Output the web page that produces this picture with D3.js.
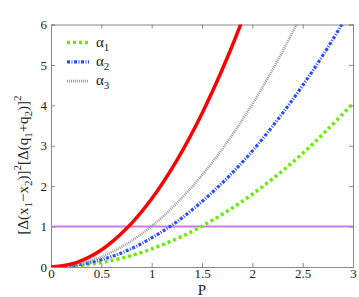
<!DOCTYPE html>
<html>
<head>
<meta charset="utf-8">
<script src="https://cdn.jsdelivr.net/npm/d3@7"></script>
<style>
  body { margin: 0; background: #fff; }
  svg text { font-family: "Liberation Serif", "Times New Roman", "DejaVu Serif", serif !important; }
</style>
</head>
<body>
<div id="container"></div>
<script>
// values
const pRed = [0, 0.25, 0.5, 0.75, 1, 1.25, 1.5, 1.75, 2];
const yRed = [0, 0.11, 0.42, 0.95, 1.69, 2.64, 3.8, 5.17, 6.75];
const pAll = [0, 0.25, 0.5, 0.75, 1, 1.25, 1.5, 1.75, 2, 2.25, 2.5, 2.75, 3];
const yGray = [0, 0.063, 0.25, 0.57, 1.01, 1.58, 2.27, 3.09, 4.03, 5.1, 6.3];
const yBlue = [0, 0.045, 0.18, 0.40, 0.72, 1.12, 1.62, 2.20, 2.87, 3.64, 4.49, 5.43, 6.47];
const yGreen = [0, 0.028, 0.11, 0.25, 0.45, 0.70, 1.01, 1.38, 1.80, 2.28, 2.81, 3.41, 4.05];
const xTicks = [0, 0.5, 1, 1.5, 2, 2.5, 3];
const yTicks = [0, 1, 2, 3, 4, 5, 6];
const refLevel = 1;
const legendNames = ["1", "2", "3"];

const w = 359, h = 297;
const margin = {top: 24.5, left: 51, bottom: 30, right: 6};
const graphWidth = w - margin.left - margin.right;
const graphHeight = h - margin.top - margin.bottom;

const svg = d3.select("#container").append("svg").attr("width", w).attr("height", h);
const graph = svg.append("g").attr("transform", `translate(${margin.left}, ${margin.top})`);

const xScale = d3.scaleLinear().domain([0, 3]).range([0, graphWidth]);
const yScale = d3.scaleLinear().domain([0, 6]).range([graphHeight, 0]);

svg.append("defs").append("clipPath").attr("id", "clip")
  .append("rect").attr("width", graphWidth).attr("height", graphHeight);

const axisColor = "#888";
const labelColor = "#222";

// axes, ticks pointing inward
const xAxisGroup = graph.append("g").attr("transform", `translate(0, ${graphHeight})`)
  .call(d3.axisBottom(xScale).tickValues(xTicks).tickSize(-4).tickPadding(2).tickFormat(d3.format("")));
const xTopGroup = graph.append("g")
  .call(d3.axisTop(xScale).tickValues(xTicks).tickSize(-4).tickFormat(""));
const yAxisGroup = graph.append("g")
  .call(d3.axisLeft(yScale).tickValues(yTicks).tickSize(-4).tickPadding(4).tickFormat(d3.format("d")));
const yRightGroup = graph.append("g").attr("transform", `translate(${graphWidth}, 0)`)
  .call(d3.axisRight(yScale).tickValues(yTicks).tickSize(-4).tickFormat(""));

[xAxisGroup, xTopGroup, yAxisGroup, yRightGroup].forEach(g => {
  g.attr("font-family", null);
  g.select(".domain").attr("stroke", axisColor).attr("stroke-width", 1);
  g.selectAll(".tick line").attr("stroke", axisColor);
  g.selectAll(".tick text").attr("fill", labelColor).style("font-size", "13px");
});

// reference line at 1
graph.append("line")
  .attr("x1", 0).attr("x2", graphWidth)
  .attr("y1", yScale(refLevel)).attr("y2", yScale(refLevel))
  .attr("stroke", "#cc77ee").attr("stroke-width", 2);

const line = d3.line().x(d => xScale(d[0])).y(d => yScale(d[1])).curve(d3.curveCatmullRom);
const plots = graph.append("g").attr("clip-path", "url(#clip)");

const series = [
  {p: pAll, y: yGreen, color: "#66ee00", width: 3.5, dash: "3,3"},
  {p: pAll, y: yBlue, color: "#2a4dff", width: 3.2, dash: "3,1.5,1,1.5"},
  {p: pAll, y: yGray, color: "#999999", width: 2.6, dash: "1,1"},
  {p: pRed, y: yRed, color: "#ff0000", width: 3.5, dash: null}
];
series.forEach(s => {
  const pts = s.y.map((v, i) => [s.p[i], v]);
  plots.append("path").datum(pts)
    .attr("d", line)
    .attr("fill", "none")
    .attr("stroke", s.color)
    .attr("stroke-width", s.width)
    .attr("stroke-dasharray", s.dash);
});

// legend
const legend = graph.append("g").attr("transform", `translate(${67 - margin.left}, ${42.5 - margin.top})`);
legendNames.forEach((n, i) => {
  const s = series[i];
  const gy = i * 19.3;
  legend.append("line").attr("x1", 0).attr("x2", 22).attr("y1", gy).attr("y2", gy)
    .attr("stroke", s.color).attr("stroke-width", s.width).attr("stroke-dasharray", s.dash);
  const t = legend.append("text").attr("x", 29).attr("y", gy + 4).attr("fill", labelColor)
    .style("font-size", "15px");
  t.append("tspan").text("α");
  t.append("tspan").attr("dy", 4).style("font-size", "11px").text(n);
});

// axis titles
svg.append("text").attr("x", margin.left + xScale(1.5)).attr("y", 295)
  .attr("text-anchor", "middle").attr("fill", labelColor).style("font-size", "15px").text("P");

const yt = svg.append("text").attr("transform", "translate(28, 165) rotate(-90)")
  .attr("text-anchor", "middle").attr("fill", labelColor).style("font-size", "15px");
const parts = [
  ["[Δ(x", 0, 15], ["1", 4, 11], ["−x", -4, 15], ["2", 4, 11], [")]", -4, 15], ["2", -7, 11],
  ["[Δ(q", 7, 15], ["1", 4, 11], ["+q", -4, 15], ["2", 4, 11], [")]", -4, 15], ["2", -7, 11]
];
parts.forEach(([txt, dy, fs]) => {
  yt.append("tspan").attr("dy", dy).style("font-size", fs + "px").text(txt);
});
</script>
</body>
</html>
